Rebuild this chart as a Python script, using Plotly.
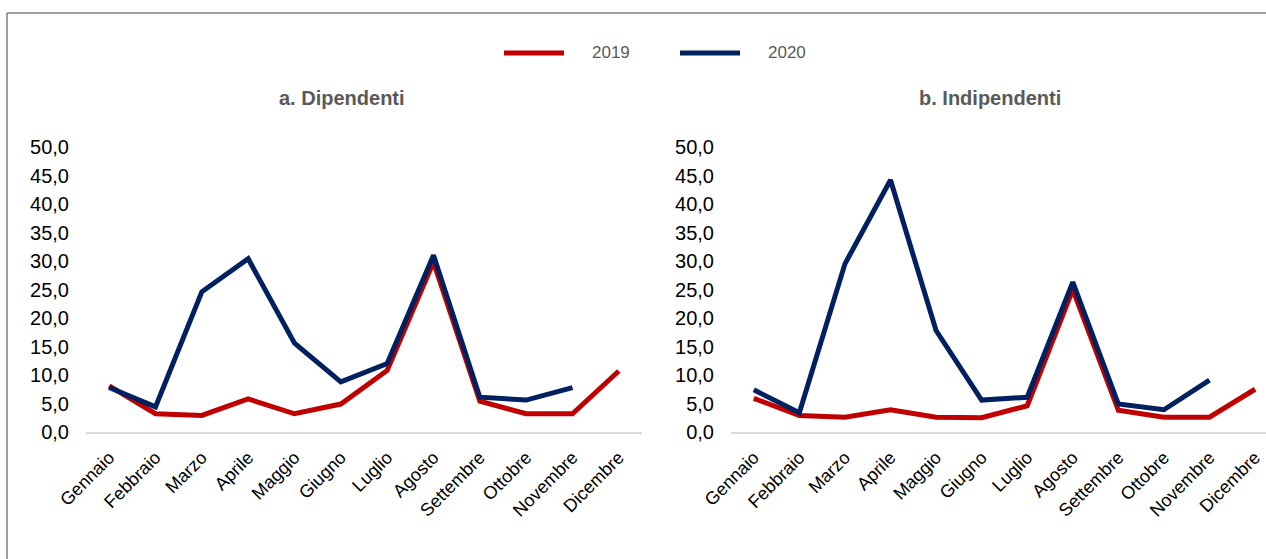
import plotly.graph_objects as go

months = ["Gennaio", "Febbraio", "Marzo", "Aprile", "Maggio", "Giugno",
          "Luglio", "Agosto", "Settembre", "Ottobre", "Novembre", "Dicembre"]
series_names = ["2019", "2020"]
panel_titles = ["a. Dipendenti", "b. Indipendenti"]

dip_2019 = [8.1, 3.2, 2.9, 5.8, 3.2, 4.9, 10.8, 29.8, 5.4, 3.2, 3.2, 10.7]
dip_2020 = [7.8, 4.4, 24.6, 30.4, 15.6, 8.8, 12.0, 31.0, 6.1, 5.6, 7.8]
ind_2019 = [5.9, 2.9, 2.6, 3.9, 2.6, 2.5, 4.6, 25.0, 3.8, 2.6, 2.6, 7.5]
ind_2020 = [7.4, 3.4, 29.5, 44.2, 17.8, 5.6, 6.1, 26.3, 4.9, 3.9, 9.1]

y_ticks = [0, 5, 10, 15, 20, 25, 30, 35, 40, 45, 50]

colors = ["#C00000", "#002060"]
W, H = 1266, 559
FONT = "Liberation Sans, Arial, sans-serif"

fig = go.Figure()

panels = [(dip_2019, dip_2020, "x", "y"), (ind_2019, ind_2020, "x2", "y2")]
for s19, s20, xa, ya in panels:
    for vals, name, col in [(s19, series_names[0], colors[0]), (s20, series_names[1], colors[1])]:
        fig.add_trace(go.Scatter(
            x=months[:len(vals)], y=vals, mode="lines", name=name,
            line=dict(color=col, width=5), xaxis=xa, yaxis=ya,
            showlegend=False, hoverinfo="skip"))

def px_x(p):
    return p / W

def px_y(p):
    return 1 - p / H

ydom = [px_y(432), px_y(147)]
xcommon = dict(
    type="category", categoryorder="array", categoryarray=months,
    tickangle=-45, showline=True, linecolor="#d9d9d9", linewidth=2,
    showgrid=False, zeroline=False, ticks="", ticklabelstandoff=6,
    automargin=False,
    tickfont=dict(family=FONT, size=18, color="#000000"),
)
ycommon = dict(
    range=[0, 50], tickvals=y_ticks, tickformat=".1f", showgrid=False,
    zeroline=False, showline=False, ticks="", ticklabelstandoff=16,
    automargin=False,
    tickfont=dict(family=FONT, size=20, color="#000000"), domain=ydom,
)

fig.update_layout(
    width=W, height=H,
    margin=dict(l=0, r=0, t=0, b=0, autoexpand=False),
    paper_bgcolor="white", plot_bgcolor="white",
    separators=",.",
    xaxis=dict(domain=[px_x(86), px_x(642)], range=[-0.5, 11.5], anchor="y", **xcommon),
    yaxis=dict(anchor="x", **ycommon),
    xaxis2=dict(domain=[px_x(731), 1.0], range=[-0.5, 11.24], anchor="y2", **xcommon),
    yaxis2=dict(anchor="x2", **ycommon),
)

# frame of the picture (left and top borders)
fig.add_shape(type="line", xref="paper", yref="paper",
              x0=px_x(7), x1=px_x(7), y0=-0.05, y1=px_y(13),
              line=dict(color="#7f7f7f", width=1.5))
fig.add_shape(type="line", xref="paper", yref="paper",
              x0=px_x(7), x1=1.05, y0=px_y(13), y1=px_y(13),
              line=dict(color="#7f7f7f", width=1.5))

# panel titles
for title, cx in zip(panel_titles, [342, 990]):
    fig.add_annotation(text="<b>" + title + "</b>", xref="paper", yref="paper",
                       x=px_x(cx), y=px_y(98), showarrow=False,
                       xanchor="center", yanchor="middle",
                       font=dict(family=FONT, size=20, color="#595959"))

# legend
for name, col, x0 in zip(series_names, colors, [504, 680]):
    fig.add_shape(type="line", xref="paper", yref="paper",
                  x0=px_x(x0), x1=px_x(x0 + 60), y0=px_y(53), y1=px_y(53),
                  line=dict(color=col, width=5))
    fig.add_annotation(text=name, xref="paper", yref="paper",
                       x=px_x(x0 + 86), y=px_y(53), showarrow=False,
                       xanchor="left", yanchor="middle",
                       font=dict(family=FONT, size=17, color="#595959"))

fig.write_html(
    "out.html",
    config={"displayModeBar": False},
    post_script="document.body.style.margin='0';document.body.style.overflow='hidden';",
)
